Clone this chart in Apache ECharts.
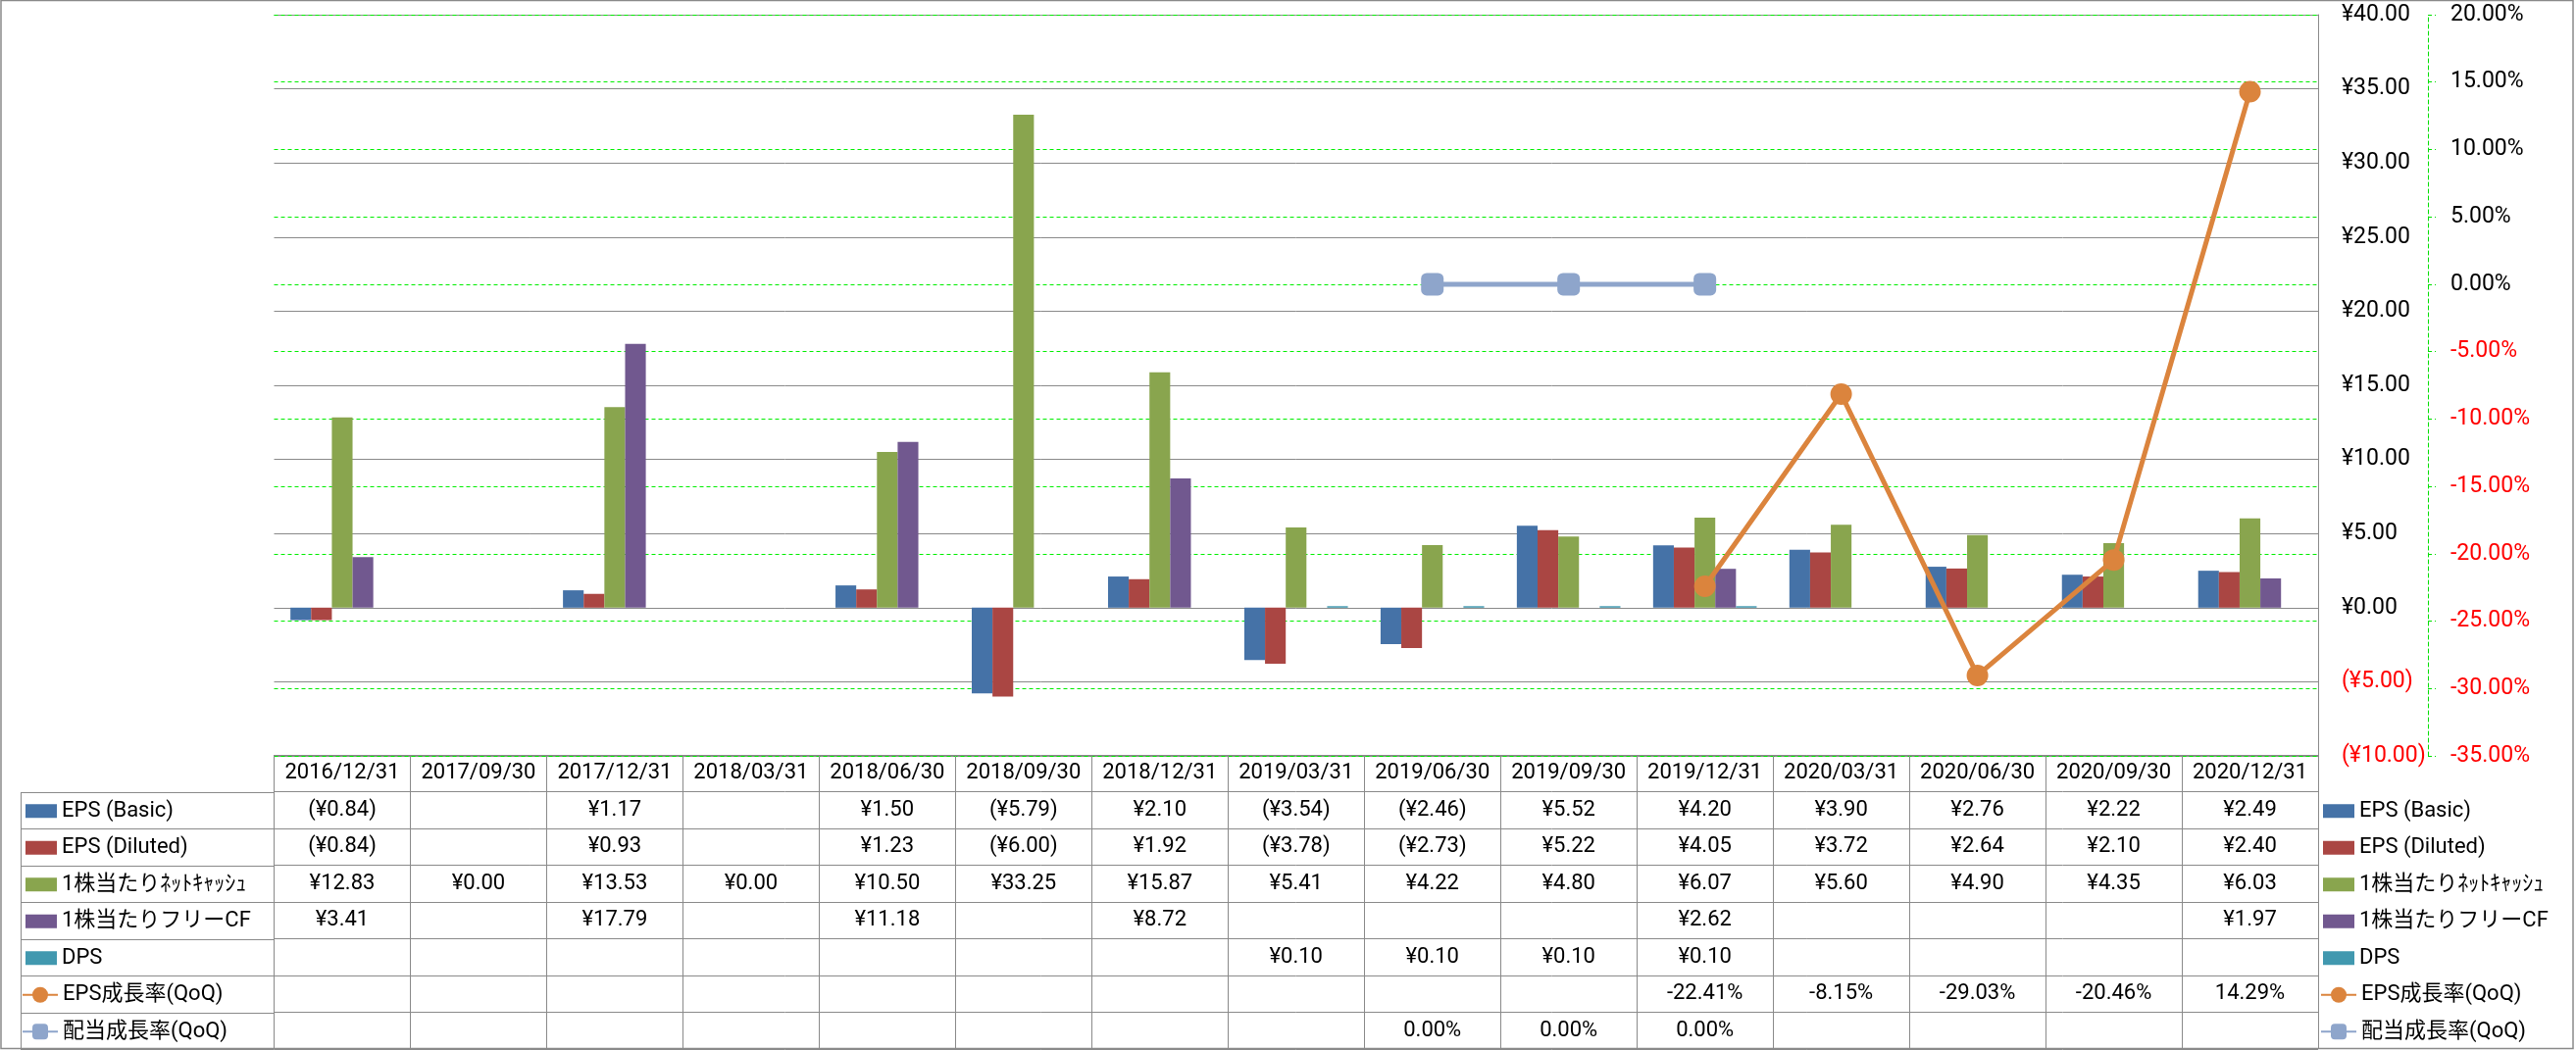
<!DOCTYPE html>
<html>
<head>
<meta charset="utf-8">
<script src="https://cdn.jsdelivr.net/npm/echarts@6/dist/echarts.min.js"></script>
<style>
html,body{margin:0;padding:0;background:#fff;}
#chart{width:2627px;height:1071px;}
</style>
</head>
<body>
<div id="chart"></div>
<script>
// ---------- data ----------
const categories = ['2016/12/31','2017/09/30','2017/12/31','2018/03/31','2018/06/30','2018/09/30','2018/12/31','2019/03/31','2019/06/30','2019/09/30','2019/12/31','2020/03/31','2020/06/30','2020/09/30','2020/12/31'];
const epsBasic   = [-0.84, null, 1.17, null, 1.50, -5.79, 2.10, -3.54, -2.46, 5.52, 4.20, 3.90, 2.76, 2.22, 2.49];
const epsDiluted = [-0.84, null, 0.93, null, 1.23, -6.00, 1.92, -3.78, -2.73, 5.22, 4.05, 3.72, 2.64, 2.10, 2.40];
const netCash    = [12.83, 0.00, 13.53, 0.00, 10.50, 33.25, 15.87, 5.41, 4.22, 4.80, 6.07, 5.60, 4.90, 4.35, 6.03];
const freeCF     = [3.41, null, 17.79, null, 11.18, null, 8.72, null, null, null, 2.62, null, null, null, 1.97];
const dps        = [null, null, null, null, null, null, null, 0.10, 0.10, 0.10, 0.10, null, null, null, null];
const epsGrowth  = [null, null, null, null, null, null, null, null, null, null, -22.41, -8.15, -29.03, -20.46, 14.29];
const divGrowth  = [null, null, null, null, null, null, null, null, 0.00, 0.00, 0.00, null, null, null, null];

const seriesNames = ['EPS (Basic)', 'EPS (Diluted)', '1株当たりﾈｯﾄｷｬｯｼｭ', '1株当たりフリーCF', 'DPS', 'EPS成長率(QoQ)', '配当成長率(QoQ)'];
const yenTicks = { min: -10, max: 40, step: 5 };
const pctTicks = { min: -35, max: 20, step: 5 };

// ---------- styles ----------
const colors = ['#4572A7', '#AA4643', '#89A54E', '#71588F', '#4198AF', '#DB843D', '#8EA5CB'];
const FONT = 'Roboto, "Noto Sans CJK JP", sans-serif';
const TABLE_FS = 22;
const GRID_LEFT = 279.5, GRID_RIGHT = 2364, PLOT_TOP = 15, PLOT_BOTTOM = 771;
const TABLE_TOP = 770, ROW_H = 37.5, N_ROWS = 8, LABEL_COL_LEFT = 21;
const TABLE_BOTTOM = TABLE_TOP + ROW_H * N_ROWS;
const LINE_GRAY = '#8a8a8a';

function fmtYen(v) {
  if (v === null || v === undefined) return '';
  return v < 0 ? '(¥' + Math.abs(v).toFixed(2) + ')' : '¥' + v.toFixed(2);
}
function fmtPct(v) {
  if (v === null || v === undefined) return '';
  return v.toFixed(2) + '%';
}

// table cells built from the data arrays
const tableRows = [
  categories.map(c => c),
  epsBasic.map(fmtYen),
  epsDiluted.map(fmtYen),
  netCash.map(fmtYen),
  freeCF.map(fmtYen),
  dps.map(fmtYen),
  epsGrowth.map(fmtPct),
  divGrowth.map(fmtPct)
];
const cells = [];
tableRows.forEach((row, r) => row.forEach((txt, c) => { if (txt !== '') cells.push([c, r, txt]); }));
const rowKeys = ['header'].concat(seriesNames);

// decoration lines for the label column of the table
const graphics = [];
for (let k = 1; k <= N_ROWS; k++) {
  const y = Math.round(TABLE_TOP + ROW_H * k) + 0.5;
  graphics.push({ type: 'line', shape: { x1: LABEL_COL_LEFT, y1: y, x2: GRID_LEFT, y2: y }, style: { stroke: LINE_GRAY, lineWidth: 1 }, silent: true });
}
graphics.push({ type: 'line', shape: { x1: LABEL_COL_LEFT + 0.5, y1: Math.round(TABLE_TOP + ROW_H) + 0.5, x2: LABEL_COL_LEFT + 0.5, y2: Math.round(TABLE_BOTTOM) + 0.5 }, style: { stroke: LINE_GRAY, lineWidth: 1 }, silent: true });
graphics.push({ type: 'rect', shape: { x: 1, y: 0.5, width: 2623, height: 1069 }, style: { fill: null, stroke: LINE_GRAY, lineWidth: 1.5 }, silent: true, z: 100 });

const ITEM_LH = 24;
const textStyleCommon = { fontFamily: FONT, fontSize: TABLE_FS, color: '#000', lineHeight: ITEM_LH };
function makeLegend(left, firstRow, names, isLine) {
  return {
    left: left, top: TABLE_TOP + ROW_H * firstRow + (ROW_H - ITEM_LH) / 2 + 1,
    orient: 'vertical', padding: 0, selectedMode: false,
    itemWidth: isLine ? 36 : 32, itemHeight: isLine ? 20 : 14, itemGap: ROW_H - ITEM_LH,
    data: names.map(n => isLine ? { name: n } : { name: n, icon: 'rect' }),
    textStyle: textStyleCommon
  };
}
const barNames = seriesNames.slice(0, 5), lineNames = seriesNames.slice(5);

const barCommon = { type: 'bar', xAxisIndex: 0, yAxisIndex: 0, barGap: '0%', barCategoryGap: '24%' };

const option = {
  animation: false,
  backgroundColor: '#fff',
  textStyle: { fontFamily: FONT },
  graphic: graphics,
  grid: [
    { left: GRID_LEFT, right: 2627 - GRID_RIGHT, top: PLOT_TOP, height: PLOT_BOTTOM - PLOT_TOP },
    { left: GRID_LEFT, right: 2627 - GRID_RIGHT, top: TABLE_TOP, height: TABLE_BOTTOM - TABLE_TOP }
  ],
  legend: [
    makeLegend(26, 1, barNames, false),
    makeLegend(22, 6, lineNames, true),
    makeLegend(2369, 1, barNames, false),
    makeLegend(2366, 6, lineNames, true)
  ],
  xAxis: [
    { type: 'category', gridIndex: 0, data: categories, axisLabel: { show: false }, axisTick: { show: false }, axisLine: { show: false }, splitLine: { show: false } },
    { type: 'category', gridIndex: 1, data: categories, axisLabel: { show: false }, axisTick: { show: false }, axisLine: { show: false },
      splitLine: { show: true, lineStyle: { color: LINE_GRAY, width: 1 } } }
  ],
  yAxis: [
    { type: 'value', gridIndex: 0, position: 'right', min: yenTicks.min, max: yenTicks.max, interval: yenTicks.step,
      axisLine: { show: true, lineStyle: { color: LINE_GRAY, width: 1 } },
      axisTick: { show: false },
      splitLine: { show: true, lineStyle: { color: LINE_GRAY, width: 1 } },
      axisLabel: { margin: 24, fontFamily: FONT, fontSize: 23,
        formatter: v => v < 0 ? '{neg|' + fmtYen(v) + '}' : '{pos|' + fmtYen(v) + '}',
        rich: { neg: { color: '#ff0000', fontFamily: FONT, fontSize: 23 }, pos: { color: '#000', fontFamily: FONT, fontSize: 23 } } } },
    { type: 'value', gridIndex: 0, position: 'right', offset: 112, min: pctTicks.min, max: pctTicks.max, interval: pctTicks.step,
      axisLine: { show: true, lineStyle: { color: '#00e000', width: 1, type: [4, 3] } },
      axisTick: { show: true, length: 8, lineStyle: { color: '#00e000', width: 1, type: [4, 3] } },
      splitLine: { show: true, lineStyle: { color: '#00ee00', width: 1, type: [4, 3] } },
      axisLabel: { margin: 23, fontFamily: FONT, fontSize: 23,
        formatter: v => v < 0 ? '{neg|' + fmtPct(v) + '}' : '{pos|' + fmtPct(v) + '}',
        rich: { neg: { color: '#ff0000', fontFamily: FONT, fontSize: 23 }, pos: { color: '#000', fontFamily: FONT, fontSize: 23 } } } },
    { type: 'category', gridIndex: 1, inverse: true, data: rowKeys, axisLabel: { show: false }, axisTick: { show: false }, axisLine: { show: false },
      splitLine: { show: true, lineStyle: { color: LINE_GRAY, width: 1 } } }
  ],
  series: [
    Object.assign({ name: seriesNames[0], data: epsBasic, itemStyle: { color: colors[0] } }, barCommon),
    Object.assign({ name: seriesNames[1], data: epsDiluted, itemStyle: { color: colors[1] } }, barCommon),
    Object.assign({ name: seriesNames[2], data: netCash, itemStyle: { color: colors[2] } }, barCommon),
    Object.assign({ name: seriesNames[3], data: freeCF, itemStyle: { color: colors[3] } }, barCommon),
    Object.assign({ name: seriesNames[4], data: dps, itemStyle: { color: colors[4] } }, barCommon),
    { name: seriesNames[5], type: 'line', xAxisIndex: 0, yAxisIndex: 1, data: epsGrowth, z: 5,
      symbol: 'circle', symbolSize: 22, connectNulls: false,
      lineStyle: { color: colors[5], width: 5 }, itemStyle: { color: colors[5] } },
    { name: seriesNames[6], type: 'line', xAxisIndex: 0, yAxisIndex: 1, data: divGrowth, z: 5,
      symbol: 'roundRect', symbolSize: 23, connectNulls: false,
      lineStyle: { color: colors[6], width: 5 }, itemStyle: { color: colors[6] } },
    { name: 'table', type: 'custom', xAxisIndex: 1, yAxisIndex: 2, data: cells.map(c => [c[0], c[1]]), silent: true,
      renderItem: (params, api) => {
        const p = api.coord([api.value(0), api.value(1)]);
        return { type: 'text', x: p[0], y: p[1],
          style: { text: cells[params.dataIndex][2], fill: '#000', fontFamily: FONT, fontSize: TABLE_FS, align: 'center', verticalAlign: 'middle' } };
      } }
  ]
};

const chart = echarts.init(document.getElementById('chart'), null, { renderer: 'canvas' });
chart.setOption(option);
</script>
</body>
</html>
